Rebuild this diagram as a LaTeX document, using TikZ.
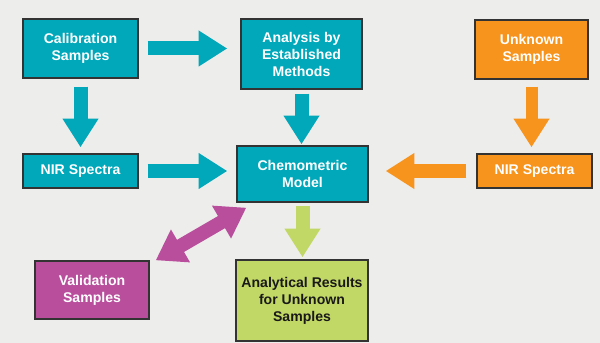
\documentclass[tikz,border=0pt]{standalone}
\usepackage{fontspec}
\setmainfont{Liberation Sans}
\usetikzlibrary{arrows.meta, positioning}
\definecolor{calteal}{RGB}{0,168,186}
\definecolor{unkorange}{RGB}{247,148,30}
\definecolor{valmagenta}{RGB}{185,78,157}
\definecolor{resgreen}{RGB}{194,216,102}
\definecolor{paper}{RGB}{237,237,235}

\begin{document}
\begin{tikzpicture}[x=0.03cm, y=-0.03cm,
		box/.style={draw=black!80, line width=1.2pt, fill=#1, text=white, align=center, inner sep=0pt,
			font=\bfseries\fontsize{12}{14.5}\selectfont},
		flow/.style={draw=#1, line width=0.42cm, -{Triangle[width=1.02cm, length=0.86cm]}}]
		\fill[paper] (0,0) rectangle (600,343);
		\useasboundingbox (0,0) rectangle (600,343);
		% boxes
		\node[box=calteal, minimum width=3.45cm, minimum height=1.77cm] (cal) at (80.5,48.5) {Calibration\\Samples};
		\node[box=calteal, minimum width=3.63cm, minimum height=2.1cm] (ana) at (301.5,54) {Analysis by\\Established\\Methods};
		\node[box=unkorange, minimum width=3.39cm, minimum height=1.77cm] (unk) at (531.5,49.5) {Unknown\\Samples};
		\node[box=calteal, minimum width=3.45cm, minimum height=1.02cm] (nirL) at (80.5,171) {NIR Spectra};
		\node[box=calteal, minimum width=3.93cm, minimum height=1.68cm] (chem) at (302.5,174) {Chemometric\\Model};
		\node[box=unkorange, minimum width=3.45cm, minimum height=1.02cm] (nirR) at (534.5,171) {NIR Spectra};
		\node[box=valmagenta, minimum width=3.42cm, minimum height=1.74cm] (val) at (92,290) {Validation\\Samples};
		\node[box=resgreen, text=black!90, minimum width=3.96cm, minimum height=2.43cm] (res) at (302,300.5) {Analytical Results\\for Unknown\\Samples};
		% arrows
		\draw[flow=calteal, shorten <=0.27cm, shorten >=0.39cm] (cal.east) -- (cal.east -| ana.west);
		\draw[flow=calteal, shorten <=0.24cm, shorten >=0.18cm] (cal.south) -- (cal.south |- nirL.north);
		\draw[flow=calteal, shorten <=0.12cm, shorten >=0.03cm] (ana.south) -- (ana.south |- chem.north);
		\draw[flow=calteal, shorten <=0.27cm, shorten >=0.27cm] (nirL.east) -- (nirL.east -| chem.west);
		\draw[flow=unkorange, line width=0.36cm, shorten <=0.21cm, shorten >=0.18cm] (unk.south) -- (unk.south |- nirR.north);
		\draw[flow=unkorange, shorten <=0.3cm, shorten >=0.51cm] (nirR.west) -- (nirR.west -| chem.east);
		\draw[flow=resgreen, shorten <=0.09cm, shorten >=0.06cm] (chem.south) -- (chem.south |- res.north);
		\draw[flow=valmagenta, {Triangle[width=1.08cm, length=0.86cm]}-{Triangle[width=1.08cm, length=0.86cm]}]
			([shift={(6,0)}]val.north east) -- ([shift={(10,5)}]chem.south west);
	\end{tikzpicture}
\end{document}
